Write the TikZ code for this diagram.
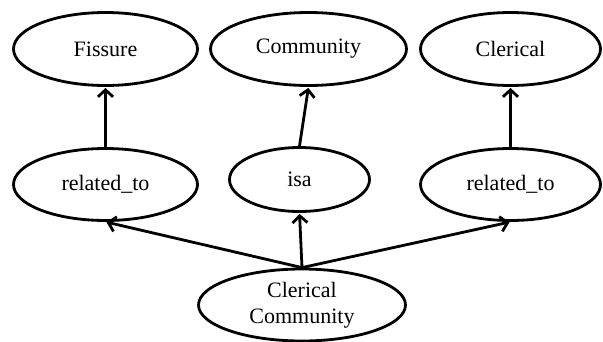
\documentclass[tikz,border=0pt]{standalone}
\usepackage{fontspec}
\setmainfont{Liberation Serif}
\usetikzlibrary{arrows.meta,shapes.geometric}

\begin{document}
\begin{tikzpicture}[->,>={Straight Barb[length=7pt,width=15pt]},shorten >=1pt,
  x=1pt,y=-1pt,line width=2.8pt,
  main node/.style={ellipse,draw,inner sep=0pt,align=center,font=\fontsize{22}{26}\selectfont}]

  \useasboundingbox (0,0) rectangle (603,341);

  \node[main node,minimum width=184pt,minimum height=73pt] (fissure) at (105.5,49) {Fissure};
  \node[main node,minimum width=196pt,minimum height=73pt] (community) at (308.5,49) {Community};
  \node[main node,minimum width=180pt,minimum height=73pt] (clerical) at (510.5,49) {Clerical};
  \node[main node,minimum width=184pt,minimum height=72pt] (rel1) at (105.5,184.5) {related\_to};
  \node[main node,minimum width=140pt,minimum height=64pt] (isa) at (299.5,179.5) {isa};
  \node[main node,minimum width=180pt,minimum height=72pt] (rel2) at (510.5,184.5) {related\_to};
  \node[main node,minimum width=207pt,minimum height=72pt] (cc) at (302,305) {Clerical\\Community};

   \path
     (rel1) edge (fissure)
     (isa.north) edge (community.south)
     (rel2) edge (clerical)
     (cc.north) edge (rel1.south)
     (cc.north) edge (isa.south)
     (cc.north) edge (rel2.south);
%     (cc) edge (community);

\end{tikzpicture}
\end{document}
